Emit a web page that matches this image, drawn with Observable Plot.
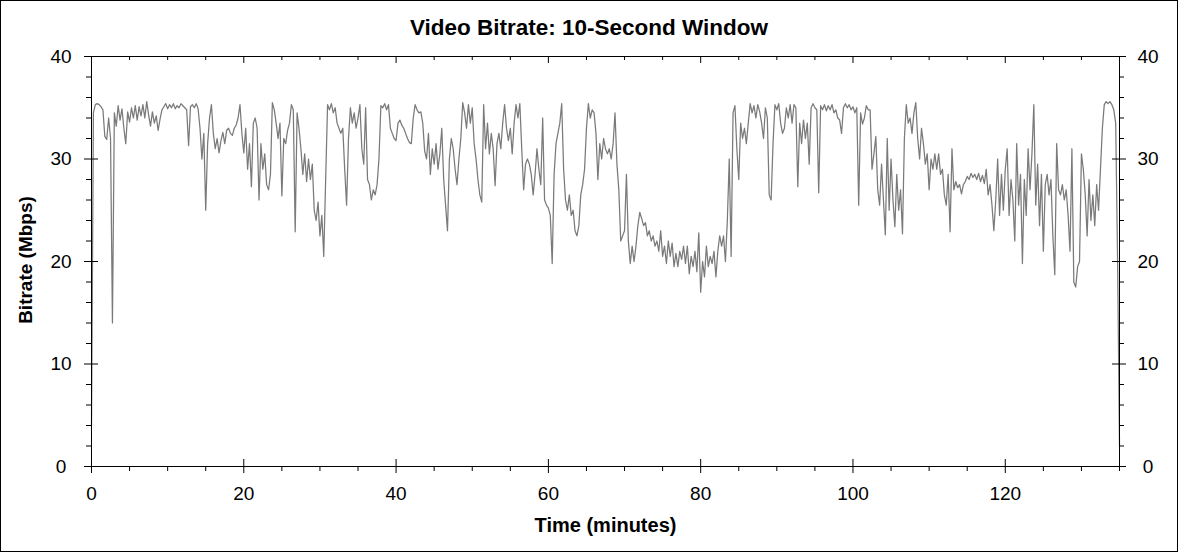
<!DOCTYPE html>
<html>
<head>
<meta charset="utf-8">
<script src="https://cdn.jsdelivr.net/npm/d3@7"></script>
<script src="https://cdn.jsdelivr.net/npm/@observablehq/plot@0.6"></script>
<style>
  html, body { margin: 0; padding: 0; background: #fff; }
  #wrap { position: relative; width: 1178px; height: 552px; background: #fff; overflow: hidden; }
  #title { position: absolute; left: 0; top: 17px; width: 1178px; text-align: center;
           font: bold 22.5px/22.5px "Liberation Sans", Arial, sans-serif; color: #000; }
  #chart { position: absolute; left: 0; top: 50px; }
  #border { position: absolute; left: 0; top: 0; width: 1178px; height: 552px;
            border: 1px solid #000; box-sizing: border-box; pointer-events: none; }
</style>
</head>
<body>
<div id="wrap">
  <div id="title">Video Bitrate: 10-Second Window</div>
  <div id="chart"></div>
  <div id="border"></div>
</div>
<script>
// Sampling of the 10-second-window bitrate trace (minutes)
const timeStart = 0;
const timeStep = 0.25;

// Bitrate (Mbps), one value every 0.25 min
const bitrate = [
  4, 34.5, 35.3, 35.4, 35.3, 35.1, 34.8, 32.2, 31.9, 34.0,
  32.0, 14.0, 34.5, 33.2, 35.2, 33.8, 34.9, 33.0, 31.5, 34.6,
  33.6, 35.0, 34.0, 35.2, 33.8, 35.1, 34.2, 35.3, 34.0, 35.6,
  34.3, 33.2, 34.6, 33.5, 34.2, 32.8, 33.9, 34.8, 35.1, 35.4,
  34.9, 35.3, 35.0, 35.4, 34.9, 35.2, 35.0, 35.4, 35.2, 35.0,
  34.8, 31.3, 35.1, 35.3, 35.0, 35.4, 34.9, 33.0, 30.0, 32.5,
  25.0, 31.5, 34.0, 35.3, 32.5, 31.0, 32.0, 30.6, 31.8, 32.6,
  31.5, 32.8, 33.0, 32.5, 32.3, 33.0, 33.3, 34.0, 35.3, 32.5,
  30.6, 33.0, 29.0, 31.5, 27.3, 33.5, 34.0, 33.0, 26.0, 31.5,
  29.0, 30.5, 27.5, 27.0, 28.5, 35.5, 34.8, 33.5, 32.0, 33.5,
  26.4, 32.0, 31.5, 32.8, 33.5, 35.3, 34.8, 22.9, 34.5, 33.0,
  31.0, 28.5, 30.5, 27.8, 30.0, 28.0, 29.5, 25.0, 24.0, 25.8,
  22.5, 24.5, 20.5, 28.0, 35.3, 34.8, 35.4, 34.5, 35.0, 33.5,
  33.0, 32.5, 33.0, 29.0, 25.5, 32.0, 35.0, 33.5, 34.5, 33.0,
  34.0, 35.3, 31.0, 29.5, 35.0, 28.0, 27.5, 26.0, 27.0, 26.5,
  27.5, 30.0, 35.2, 35.0, 35.4, 34.8, 35.3, 33.0, 32.5, 32.0,
  31.8, 33.5, 33.8, 33.3, 33.0, 32.5, 32.0, 31.6, 31.5, 34.0,
  35.3, 34.8, 34.5, 34.6, 33.5, 30.8, 30.0, 32.5, 28.5, 31.0,
  29.5, 31.5, 29.0, 30.5, 33.0, 28.0, 25.5, 23.0, 30.0, 32.0,
  31.0, 29.0, 27.5, 30.0, 32.0, 35.5, 34.5, 33.0, 35.3, 33.5,
  35.0, 31.5, 30.0, 28.0, 26.5, 25.8, 35.3, 31.0, 33.5, 30.5,
  32.5, 31.0, 27.4, 31.5, 32.5, 31.0, 33.5, 35.3, 33.0, 31.8,
  33.0, 30.5, 33.5, 35.3, 34.0, 35.4, 31.0, 27.0, 29.5, 30.0,
  29.5, 28.5, 26.5, 28.5, 31.0, 29.0, 27.5, 34.0, 26.0, 25.5,
  25.2, 24.5, 19.8, 28.5, 31.5, 32.5, 33.5, 35.4, 29.0, 26.0,
  25.0, 26.5, 24.5, 25.0, 23.0, 22.5, 23.5, 26.5, 27.5, 29.0,
  33.0, 35.4, 34.0, 34.8, 34.5, 32.5, 28.0, 31.5, 30.0, 32.0,
  31.0, 30.5, 31.0, 30.0, 31.5, 34.5, 29.5, 27.0, 22.0, 22.5,
  23.0, 28.5, 22.0, 19.8, 21.5, 20.0, 21.5, 23.5, 24.8, 24.2,
  23.5, 23.8, 22.5, 23.0, 22.0, 22.5, 21.5, 22.0, 21.0, 23.0,
  20.5, 21.5, 19.8, 22.0, 20.5, 21.8, 19.5, 20.8, 19.5, 21.0,
  20.2, 21.5, 19.8, 21.5, 18.8, 20.5, 19.5, 21.0, 19.0, 22.8,
  17.0, 20.0, 18.5, 21.5, 19.5, 20.5, 19.8, 21.0, 18.5, 21.0,
  22.5, 21.5, 22.5, 20.0, 24.0, 30.0, 20.5, 34.5, 35.2, 31.0,
  28.0, 33.5, 32.0, 33.0, 31.5, 33.5, 35.4, 34.5, 35.2, 34.0,
  35.3, 34.6, 33.5, 32.0, 35.0, 34.0, 26.5, 26.0, 31.5, 35.3,
  34.8, 35.4, 33.5, 32.5, 33.0, 35.0, 34.0, 35.3, 33.5, 35.3,
  35.0, 27.3, 33.5, 31.5, 33.8, 32.0, 33.5, 29.5, 35.0, 35.4,
  35.0, 34.8, 26.7, 35.2, 34.8, 35.3, 34.7, 35.2, 34.8, 35.3,
  34.5, 34.8, 34.0, 33.8, 32.5, 35.0, 35.4, 35.0, 35.3, 34.8,
  35.1, 34.5, 35.0, 25.5, 34.5, 33.4, 34.0, 35.2, 34.8, 34.8,
  29.0, 30.5, 32.2, 27.0, 25.5, 29.5, 26.0, 22.6, 32.0, 25.0,
  30.0, 26.0, 23.4, 28.5, 25.0, 27.0, 22.7, 32.0, 35.3, 33.5,
  34.0, 32.5, 34.5, 35.5, 32.0, 30.0, 33.0, 31.5, 29.5, 30.5,
  27.0, 30.0, 29.0, 30.5, 29.0, 30.5, 28.5, 29.0, 26.5, 25.5,
  28.5, 22.9, 31.0, 27.0, 27.8, 27.2, 27.5, 26.6, 27.5, 27.8,
  28.3, 28.0, 28.6, 28.2, 28.5, 28.0, 28.6, 27.8, 28.4, 27.6,
  29.0, 26.5, 27.5, 25.5, 23.0, 26.0, 30.0, 24.5, 28.5, 25.0,
  29.0, 31.0, 24.5, 28.0, 26.0, 22.0, 31.5, 25.5, 28.5, 19.8,
  28.0, 24.5, 31.0, 27.0, 30.5, 35.3, 25.5, 29.5, 23.5, 28.5,
  21.0, 27.5, 28.5, 26.5, 28.0, 22.5, 18.7, 31.5, 27.0, 26.5,
  27.5, 26.0, 27.0, 24.5, 21.0, 31.0, 18.0, 17.5, 19.5, 20.0,
  30.5, 29.0, 26.5, 22.5, 28.0, 24.0, 26.5, 23.5, 27.5, 25.0,
  29.0, 33.0, 35.3, 35.6, 35.4, 35.6, 35.3, 34.8, 33.5, 20.0,
  2.0
];

// Axis ticks
const xMajorTicks = [0, 20, 40, 60, 80, 100, 120];
const xMinorTicks = [5, 10, 15, 25, 30, 35, 45, 50, 55, 65, 70, 75, 85, 90, 95, 105, 110, 115, 125, 130, 135];
const yMajorTicks = [0, 10, 20, 30, 40];
const yMinorTicks = [2, 4, 6, 8, 12, 14, 16, 18, 22, 24, 26, 28, 32, 34, 36, 38];

const xLabel = "Time (minutes)";
const yLabel = "Bitrate (Mbps)";

const data = bitrate.map((v, i) => ({time: timeStart + i * timeStep, bitrate: v}));

const W = 1178, H = 502;
const mL = 91, mR = 59, mT = 6, mB = 86;
const fw = W - mL - mR, fh = H - mT - mB;
const font = "'Liberation Sans', Arial, sans-serif";

const chart = Plot.plot({
  width: W,
  height: H,
  marginLeft: mL,
  marginRight: mR,
  marginTop: mT,
  marginBottom: mB,
  style: {fontFamily: font, background: "transparent", color: "#000", overflow: "visible"},
  x: {domain: [0, 135], axis: null},
  y: {domain: [0, 40], axis: null},
  marks: [
    Plot.line(data, {x: "time", y: "bitrate", stroke: "#7a7a7a", strokeWidth: 1.25}),
    Plot.frame({stroke: "#000"}),
    // left & right major ticks (crossing the axis)
    Plot.tickY(yMajorTicks, {y: d => d, stroke: "#000", insetLeft: -7, insetRight: fw - 7}),
    Plot.tickY(yMajorTicks, {y: d => d, stroke: "#000", insetLeft: fw - 7, insetRight: -7}),
    // left & right minor ticks (outward)
    Plot.tickY(yMinorTicks, {y: d => d, stroke: "#000", insetLeft: -5, insetRight: fw}),
    Plot.tickY(yMinorTicks, {y: d => d, stroke: "#000", insetLeft: fw, insetRight: -5}),
    // bottom ticks
    Plot.tickX(xMajorTicks, {x: d => d, stroke: "#000", insetTop: fh - 7, insetBottom: -7}),
    Plot.tickX(xMinorTicks, {x: d => d, stroke: "#000", insetTop: fh, insetBottom: -5}),
    // top ticks (inward)
    Plot.tickX(xMajorTicks, {x: d => d, stroke: "#000", insetTop: 0, insetBottom: fh - 7}),
    Plot.tickX(xMinorTicks, {x: d => d, stroke: "#000", insetTop: 0, insetBottom: fh - 4}),
    // tick labels
    Plot.text(yMajorTicks, {y: d => d, text: d => String(d), frameAnchor: "left", dx: -30.5,
      textAnchor: "middle", lineAnchor: "middle", fontSize: 19, fill: "#000"}),
    Plot.text(yMajorTicks, {y: d => d, text: d => String(d), frameAnchor: "right", dx: 28.5,
      textAnchor: "middle", lineAnchor: "middle", fontSize: 19, fill: "#000"}),
    Plot.text(xMajorTicks, {x: d => d, text: d => String(d), frameAnchor: "bottom", dy: 33,
      textAnchor: "middle", lineAnchor: "bottom", fontSize: 19, fill: "#000"}),
    // axis titles
    Plot.text([xLabel], {text: d => d, frameAnchor: "bottom", dy: 65, lineAnchor: "bottom",
      textAnchor: "middle", fontSize: 20, fontWeight: "bold", fill: "#000"}),
    Plot.text([yLabel], {text: d => d, frameAnchor: "left", dx: -59.5, dy: -1.5, rotate: -90,
      lineAnchor: "bottom", textAnchor: "middle", fontSize: 19, fontWeight: "bold", fill: "#000"})
  ]
});

document.getElementById("chart").appendChild(chart);
</script>
</body>
</html>
